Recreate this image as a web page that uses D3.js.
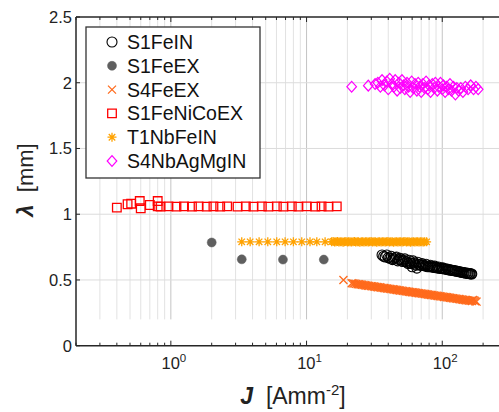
<!DOCTYPE html>
<html>
<head>
<meta charset="utf-8">
<script src="https://cdn.jsdelivr.net/npm/d3@7"></script>
<style>
  body { margin: 0; background: #fff; }
  svg { display: block; font-family: "Liberation Sans", Arial, sans-serif; }
</style>
</head>
<body>
<div class="canvas"></div>
<script>
// ---- data ----
const seriesNames = ['S1FeIN', 'S1FeEX', 'S4FeEX', 'S1FeNiCoEX', 'T1NbFeIN', 'S4NbAgMgIN'];

const s1FeIN = [
  [36, 0.69], [37, 0.68], [38, 0.675], [39, 0.69], [40, 0.67], [41, 0.665], [42, 0.68],
  [43, 0.655], [44, 0.66], [45, 0.67], [46, 0.675], [47, 0.645], [48, 0.655], [49, 0.665],
  [50, 0.65], [51, 0.64], [52, 0.65], [53, 0.66], [54, 0.64], [55, 0.635], [56, 0.625],
  [57, 0.65], [58, 0.63], [59, 0.625], [60, 0.6], [61, 0.645], [62, 0.63], [63, 0.62],
  [64, 0.612], [65, 0.59], [66, 0.635], [67, 0.62], [68, 0.615], [70, 0.61], [71, 0.625],
  [72, 0.615], [73, 0.61], [75, 0.605], [76, 0.62], [78, 0.6], [79, 0.605], [81, 0.6],
  [82, 0.612], [84, 0.598], [85, 0.6], [87, 0.595], [88, 0.605], [90, 0.593], [91, 0.595],
  [93, 0.59], [94, 0.598], [96, 0.588], [98, 0.59], [100, 0.586], [101, 0.592], [103, 0.584],
  [105, 0.585], [107, 0.58], [109, 0.583], [111, 0.577], [113, 0.578], [115, 0.575],
  [117, 0.576], [119, 0.572], [121, 0.572], [123, 0.569], [125, 0.57], [128, 0.566],
  [130, 0.565], [133, 0.562], [135, 0.562], [138, 0.559], [140, 0.558], [143, 0.556],
  [145, 0.555], [148, 0.553], [150, 0.552], [153, 0.55], [155, 0.55], [158, 0.548],
  [160, 0.547], [163, 0.546], [165, 0.545]
];

const s1FeEX = [[2.0, 0.785], [3.33, 0.657], [6.7, 0.655], [13.4, 0.655]];

const s4FeEX = [
  [18.7, 0.5], [21.5, 0.475], [22.1, 0.474], [22.6, 0.472], [23.2, 0.47], [23.8, 0.468],
  [24.4, 0.467], [25.0, 0.465], [25.6, 0.463], [26.3, 0.462], [27.0, 0.46], [27.6, 0.458],
  [28.3, 0.456], [29.0, 0.455], [29.8, 0.453], [30.5, 0.452], [31.3, 0.45], [32.1, 0.449],
  [32.9, 0.447], [33.7, 0.445], [34.6, 0.444], [35.4, 0.442], [36.3, 0.44], [37.2, 0.439],
  [38.1, 0.437], [39.1, 0.435], [40.1, 0.434], [41.1, 0.432], [42.1, 0.43], [43.2, 0.429],
  [44.3, 0.427], [45.4, 0.425], [46.5, 0.424], [47.7, 0.422], [48.9, 0.42], [50.2, 0.419],
  [51.4, 0.417], [52.7, 0.415], [54.0, 0.414], [55.4, 0.412], [56.8, 0.41], [58.2, 0.409],
  [59.7, 0.407], [61.2, 0.406], [62.7, 0.404], [64.3, 0.403], [65.9, 0.401], [67.6, 0.399],
  [69.3, 0.398], [71.0, 0.396], [72.8, 0.395], [74.7, 0.393], [76.6, 0.391], [78.5, 0.39],
  [80.5, 0.388], [82.5, 0.386], [84.6, 0.385], [86.7, 0.383], [88.9, 0.381], [91.1, 0.38],
  [93.4, 0.378], [95.8, 0.376], [98.2, 0.375], [100.7, 0.373], [103.2, 0.371], [105.8, 0.37],
  [108.5, 0.368], [111.2, 0.366], [114, 0.365], [116.9, 0.363], [119.9, 0.361], [122.9, 0.36],
  [126, 0.358], [129.1, 0.356], [132.4, 0.355], [135.7, 0.353], [139.2, 0.351], [142.7, 0.35],
  [146.3, 0.348], [150, 0.346], [153.8, 0.345], [157.6, 0.343], [161.6, 0.342], [165.7, 0.34],
  [168, 0.348], [172, 0.345], [175, 0.338], [179, 0.335]
];

const s1FeNiCoEX = [
  [0.40, 1.05], [0.48, 1.076], [0.51, 1.08], [0.59, 1.10], [0.60, 1.045], [0.70, 1.07],
  [0.80, 1.10], [0.80, 1.06], [0.84, 1.058], [0.96, 1.06], [1.1, 1.058], [1.25, 1.06],
  [1.43, 1.058], [1.6, 1.06], [1.84, 1.058], [2.06, 1.06], [2.31, 1.058], [2.6, 1.06],
  [3.1, 1.058], [3.57, 1.06], [4.06, 1.058], [4.68, 1.06], [5.23, 1.058], [6.04, 1.06],
  [6.75, 1.058], [7.78, 1.06], [8.71, 1.058], [10.0, 1.06], [11.6, 1.058], [12.9, 1.06],
  [14.5, 1.058], [16.7, 1.06]
];

const t1NbFeIN = [
  [3.33, 0.79], [3.84, 0.79], [4.47, 0.79], [5.18, 0.79], [6.03, 0.79], [6.95, 0.79],
  [8.0, 0.79], [9.22, 0.79], [10.6, 0.79], [11.9, 0.79], [13.7, 0.79], [15.3, 0.79],
  [15.7, 0.792], [16.1, 0.788], [16.5, 0.79], [16.9, 0.792], [17.3, 0.789], [17.7, 0.79],
  [18.2, 0.791], [18.6, 0.787], [19.0, 0.79], [19.5, 0.792], [20.0, 0.789], [20.4, 0.79],
  [20.9, 0.791], [21.4, 0.788], [22.0, 0.79], [22.5, 0.792], [23.0, 0.789], [23.6, 0.79],
  [24.1, 0.791], [24.7, 0.787], [25.3, 0.79], [25.9, 0.791], [26.5, 0.789], [27.2, 0.79],
  [27.8, 0.791], [28.5, 0.788], [29.2, 0.79], [29.9, 0.792], [30.6, 0.789], [31.4, 0.79],
  [32.1, 0.791], [32.9, 0.787], [33.7, 0.79], [34.5, 0.791], [35.4, 0.789], [36.2, 0.79],
  [37.1, 0.791], [38.0, 0.788], [38.9, 0.79], [39.8, 0.792], [40.8, 0.789], [41.8, 0.79],
  [42.8, 0.791], [43.8, 0.787], [44.9, 0.79], [46.0, 0.791], [47.1, 0.789], [48.2, 0.79],
  [49.4, 0.791], [50.6, 0.788], [51.8, 0.79], [53.1, 0.792], [54.4, 0.789], [55.7, 0.79],
  [57.0, 0.791], [58.4, 0.787], [59.8, 0.79], [61.3, 0.791], [62.8, 0.789], [64.3, 0.79],
  [65.8, 0.791], [67.4, 0.788], [69.0, 0.79], [70.7, 0.79], [72.4, 0.789], [74.2, 0.79],
  [76.7, 0.79]
];

const s4NbAgMgIN = [
  [21.5, 1.97], [28.5, 1.978], [32, 1.99], [33.5, 2.0], [35, 1.97], [36, 2.02], [37.5, 1.98],
  [39, 2.01], [40, 1.95], [41, 2.03], [42.5, 1.99], [44, 1.97], [45, 2.02], [46.5, 1.94],
  [48, 2.0], [49, 1.96], [50.5, 2.02], [52, 1.98], [53, 1.95], [55, 2.0], [56.5, 1.97],
  [58, 1.93], [59.5, 2.01], [61, 1.96], [63, 1.99], [65, 1.94], [66.5, 2.0], [68, 1.97],
  [70, 1.93], [72, 1.99], [74, 1.96], [76, 2.01], [78, 1.95], [80, 1.98], [82, 1.93],
  [84.5, 1.99], [87, 1.96], [89, 2.0], [92, 1.94], [94, 1.97], [97, 2.0], [100, 1.95],
  [102, 1.98], [105, 1.93], [108, 1.97], [111, 1.95], [114, 1.99], [117, 1.94], [121, 1.97],
  [125, 1.91], [128, 1.96], [132, 1.94], [137, 1.96], [142, 1.93], [148, 1.97], [155, 1.95],
  [162, 1.98], [170, 1.95], [177, 1.97], [184, 1.95]
];

const yTicks = [0, 0.5, 1, 1.5, 2, 2.5];
const yGrid = [0.5, 1, 1.5, 2];
const xMajor = [1, 10, 100];
const xMinor = [0.2, 0.3, 0.4, 0.5, 0.6, 0.7, 0.8, 0.9, 1, 2, 3, 4, 5, 6, 7, 8, 9,
  10, 20, 30, 40, 50, 60, 70, 80, 90, 100, 200, 300];

// ---- layout ----
const dims = { width: 499, height: 412 };
const svg = d3.select('.canvas').append('svg')
  .attr('width', dims.width)
  .attr('height', dims.height);

const x = d3.scaleLog().domain([0.2, 300]).range([76, 507]);
const y = d3.scaleLinear().domain([0, 2.5]).range([345.7, 17]);

// marker shapes
const shape = {
  circle: r => `M${-r},0a${r},${r} 0 1,0 ${2 * r},0a${r},${r} 0 1,0 ${-2 * r},0Z`,
  square: h => `M${-h},${-h}H${h}V${h}H${-h}Z`,
  times: h => `M${-h},${-h}L${h},${h}M${-h},${h}L${h},${-h}`,
  asterisk: h => {
    const d = h * 0.72;
    return `M0,${-h}V${h}M${-h},0H${h}M${-d},${-d}L${d},${d}M${-d},${d}L${d},${-d}`;
  },
  diamond: h => `M0,${-h * 1.12}L${h},0L0,${h * 1.12}L${-h},0Z`
};

const styles = [
  { name: seriesNames[0], data: s1FeIN, d: shape.circle(5), fill: 'none', stroke: '#000', sw: 1.1 },
  { name: seriesNames[1], data: s1FeEX, d: shape.circle(4.5), fill: '#5f5f5f', stroke: '#5f5f5f', sw: 0.5 },
  { name: seriesNames[2], data: s4FeEX, d: shape.times(4), fill: 'none', stroke: '#ff6a1c', sw: 1.3 },
  { name: seriesNames[3], data: s1FeNiCoEX, d: shape.square(4.3), fill: 'none', stroke: '#ff0000', sw: 1.3 },
  { name: seriesNames[4], data: t1NbFeIN, d: shape.asterisk(4.5), fill: 'none', stroke: '#ffa200', sw: 1.3 },
  { name: seriesNames[5], data: s4NbAgMgIN, d: shape.diamond(4.8), fill: 'none', stroke: '#ff00ff', sw: 1.2 }
];

// ---- grid ----
const grid = svg.append('g');
grid.selectAll('.vgrid').data(xMinor.filter(v => v > 0.2)).enter().append('line')
  .attr('x1', d => x(d)).attr('x2', d => x(d))
  .attr('y1', y(2.5)).attr('y2', y(0.2))
  .attr('stroke', d => xMajor.includes(d) ? '#c4c4c4' : '#e2e2e2')
  .attr('stroke-width', 1);
grid.selectAll('.hgrid').data(yGrid).enter().append('line')
  .attr('x1', x(0.2)).attr('x2', dims.width)
  .attr('y1', d => y(d)).attr('y2', d => y(d))
  .attr('stroke', '#dcdcdc').attr('stroke-width', 1);

// ---- series ----
const order = [3, 4, 1, 0, 2, 5];
order.forEach(i => {
  const s = styles[i];
  svg.append('g').selectAll('path').data(s.data).enter().append('path')
    .attr('transform', d => `translate(${x(d[0])},${y(d[1])})`)
    .attr('d', s.d)
    .attr('fill', s.fill)
    .attr('stroke', s.stroke)
    .attr('stroke-width', s.sw);
});

// ---- axes ----
const axisColor = '#262626';
const ax = svg.append('g');
ax.append('line').attr('x1', 76).attr('x2', 76).attr('y1', y(2.5)).attr('y2', y(0))
  .attr('stroke', axisColor).attr('stroke-width', 1.5);
ax.append('line').attr('x1', 76).attr('x2', dims.width).attr('y1', y(0)).attr('y2', y(0))
  .attr('stroke', axisColor).attr('stroke-width', 1.5);
ax.append('line').attr('x1', 76).attr('x2', dims.width).attr('y1', y(2.5)).attr('y2', y(2.5))
  .attr('stroke', axisColor).attr('stroke-width', 1.5);

// x ticks, bottom and top
ax.selectAll('.xtb').data(xMinor).enter().append('line')
  .attr('x1', d => x(d)).attr('x2', d => x(d))
  .attr('y1', y(0)).attr('y2', d => y(0) - (xMajor.includes(d) ? 5 : 3))
  .attr('stroke', axisColor).attr('stroke-width', 1);
ax.selectAll('.xtt').data(xMinor).enter().append('line')
  .attr('x1', d => x(d)).attr('x2', d => x(d))
  .attr('y1', y(2.5)).attr('y2', d => y(2.5) + (xMajor.includes(d) ? 5 : 3))
  .attr('stroke', axisColor).attr('stroke-width', 1);

// y ticks
ax.selectAll('.yt').data(yTicks).enter().append('line')
  .attr('x1', 76).attr('x2', 80)
  .attr('y1', d => y(d)).attr('y2', d => y(d))
  .attr('stroke', axisColor).attr('stroke-width', 1);

ax.selectAll('.ylab').data(yTicks).enter().append('text')
  .attr('x', 72).attr('y', d => y(d)).attr('dy', '0.36em')
  .attr('text-anchor', 'end')
  .attr('font-size', 16.5).attr('fill', '#222')
  .text(d => d);

const xl = ax.selectAll('.xlab').data(xMajor).enter().append('text')
  .attr('x', d => x(d) + 3).attr('y', 369)
  .attr('text-anchor', 'middle')
  .attr('font-size', 16.5).attr('fill', '#222');
xl.append('tspan').text('10');
xl.append('tspan').attr('dy', -7).attr('font-size', 11.5).text(d => Math.round(Math.log10(d)));

// axis titles
const yt = svg.append('text')
  .attr('transform', 'translate(33,180) rotate(-90)')
  .attr('text-anchor', 'middle')
  .attr('font-size', 22).attr('fill', '#222');
yt.append('tspan').attr('font-style', 'italic').attr('font-weight', 'bold').text('λ');
yt.append('tspan').attr('xml:space', 'preserve').text('  [mm]');

const xt = svg.append('text')
  .attr('x', 293).attr('y', 404)
  .attr('text-anchor', 'middle')
  .attr('font-size', 23).attr('fill', '#222');
xt.append('tspan').attr('font-style', 'italic').attr('font-weight', 'bold').text('J');
xt.append('tspan').attr('xml:space', 'preserve').text('  [Amm');
xt.append('tspan').attr('dy', -9).attr('font-size', 15).text('-2');
xt.append('tspan').attr('dy', 9).text(']');

// ---- legend ----
const legend = svg.append('g');
legend.append('rect')
  .attr('x', 86).attr('y', 27).attr('width', 174).attr('height', 151)
  .attr('fill', '#fff').attr('stroke', '#333').attr('stroke-width', 1.3);

const rowY = d3.scaleLinear().domain([0, 5]).range([42, 161]);
const rows = legend.selectAll('.row').data(styles).enter().append('g')
  .attr('transform', (d, i) => `translate(0,${rowY(i)})`);
rows.append('path')
  .attr('transform', 'translate(112,0)')
  .attr('d', d => d.d)
  .attr('fill', d => d.fill).attr('stroke', d => d.stroke).attr('stroke-width', d => d.sw);
rows.append('text')
  .attr('x', 127).attr('dy', '0.36em')
  .attr('font-size', 19.5).attr('fill', '#111')
  .text(d => d.name);
</script>
</body>
</html>
